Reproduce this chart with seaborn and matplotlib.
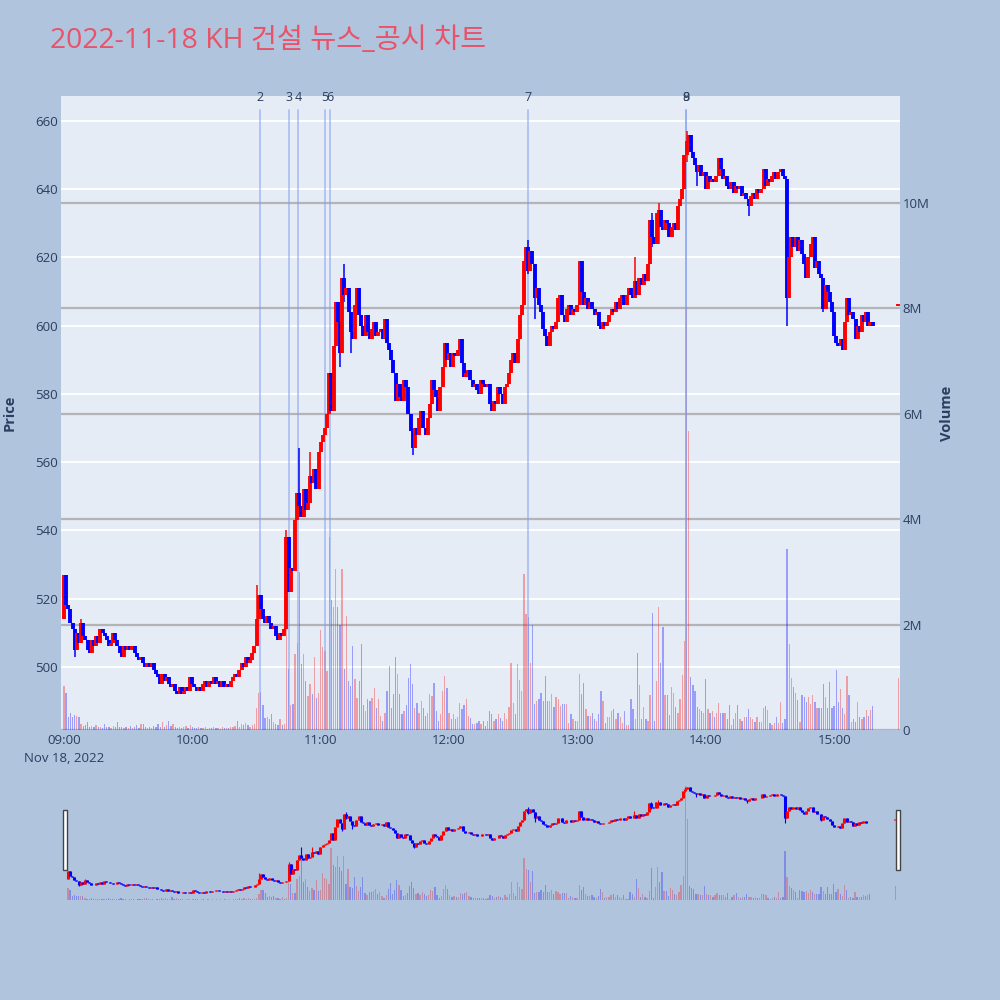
import matplotlib
matplotlib.use("Agg")
import matplotlib.pyplot as plt
import matplotlib.transforms as mtransforms
from matplotlib.patches import Rectangle
import numpy as np
import pandas as pd
import seaborn as sns

TITLE = "2022-11-18 KH 건설 뉴스_공시 차트"

# 1-minute closing prices, index = minutes after 09:00
closes = [
    527, 518, 517, 513, 511, 505, 510, 507, 513, 509,
    508, 505, 504, 508, 506, 509, 507, 511, 510, 509,
    508, 506, 507, 510, 508, 506, 504, 503, 506, 505,
    506, 505, 506, 504, 503, 502, 503, 501, 500, 501,
    500, 501, 499, 498, 497, 495, 498, 496, 497, 495,
    494, 495, 493, 492, 494, 492, 493, 494, 493, 497,
    495, 494, 493, 494, 493, 495, 496, 494, 496, 495,
    497, 495, 496, 494, 496, 494, 495, 494, 496, 497,
    498, 497, 499, 501, 500, 503, 501, 502, 504, 506,
    514, 521, 517, 514, 513, 515, 513, 511, 512, 509,
    508, 510, 509, 511, 538, 522, 529, 528, 543, 551,
    547, 544, 552, 546, 548, 556, 554, 558, 552, 563,
    566, 568, 570, 574, 586, 575, 594, 607, 601, 592,
    614, 609, 611, 604, 598, 596, 606, 611, 603, 600,
    597, 603, 598, 596, 599, 601, 597, 598, 599, 596,
    602, 595, 593, 590, 586, 578, 583, 579, 578, 584,
    582, 574, 569, 564, 570, 568, 573, 575, 570, 568,
    573, 577, 584, 581, 579, 575, 582, 588, 595, 590,
    592, 588, 592, 591, 593, 596, 589, 585, 586, 587,
    584, 582, 583, 581, 580, 584, 583, 582, 583, 577,
    575, 578, 577, 582, 580, 577, 582, 583, 586, 590,
    592, 589, 596, 603, 606, 619, 623, 616, 622, 618,
    608, 611, 606, 604, 599, 597, 594, 598, 600, 599,
    601, 608, 609, 603, 601, 605, 606, 603, 605, 604,
    606, 619, 610, 606, 608, 605, 607, 605, 603, 604,
    600, 599, 601, 600, 601, 603, 605, 604, 607, 605,
    608, 609, 606, 609, 611, 609, 608, 613, 609, 614,
    612, 615, 613, 618, 631, 626, 624, 633, 634, 629,
    628, 631, 630, 626, 629, 630, 628, 635, 637, 640,
    650, 654, 656, 651, 649, 647, 645, 647, 644, 645,
    640, 644, 642, 643, 642, 644, 649, 646, 643, 644,
    641, 640, 642, 639, 641, 640, 641, 638, 639, 637,
    635, 638, 639, 637, 640, 639, 640, 646, 641, 643,
    642, 644, 645, 643, 645, 646, 644, 643, 608, 620,
    626, 623, 626, 622, 625, 621, 618, 614, 620, 624,
    626, 617, 619, 615, 614, 605, 612, 610, 607, 604,
    597, 595, 594, 596, 593, 601, 608, 603, 604, 602,
    596, 600, 598, 603, 601, 604, 600, 601, 600,
]
first_open = 514

# volume per minute, millions of shares
volumes = [
    0.84, 0.70, 0.25, 0.33, 0.25, 0.28, 0.27, 0.25, 0.12, 0.08,
    0.10, 0.16, 0.06, 0.08, 0.05, 0.10, 0.06, 0.05, 0.04, 0.12,
    0.05, 0.06, 0.04, 0.08, 0.05, 0.16, 0.05, 0.06, 0.03, 0.05,
    0.04, 0.07, 0.03, 0.05, 0.10, 0.04, 0.12, 0.12, 0.05, 0.04,
    0.06, 0.03, 0.08, 0.05, 0.12, 0.05, 0.16, 0.06, 0.09, 0.18,
    0.08, 0.12, 0.05, 0.04, 0.06, 0.03, 0.05, 0.08, 0.03, 0.10,
    0.05, 0.04, 0.03, 0.05, 0.04, 0.03, 0.06, 0.02, 0.04, 0.03,
    0.05, 0.03, 0.04, 0.02, 0.05, 0.03, 0.04, 0.03, 0.06, 0.05,
    0.08, 0.17, 0.06, 0.12, 0.10, 0.13, 0.10, 0.06, 0.09, 0.12,
    0.42, 0.70, 0.72, 0.48, 0.22, 0.25, 0.20, 0.30, 0.15, 0.12,
    0.10, 0.20, 0.10, 0.12, 2.14, 1.15, 0.48, 0.50, 1.44, 1.66,
    3.00, 1.25, 1.44, 0.93, 0.65, 0.87, 0.68, 1.38, 0.61, 0.70,
    1.89, 1.57, 1.50, 1.12, 3.66, 2.47, 2.33, 3.06, 2.33, 2.00,
    3.06, 1.15, 2.17, 0.93, 0.84, 1.60, 0.96, 0.61, 0.93, 1.63,
    0.48, 0.36, 0.58, 0.55, 0.61, 0.80, 0.42, 0.58, 0.27, 0.17,
    0.33, 0.74, 1.22, 0.42, 0.68, 1.38, 1.06, 0.68, 0.30, 0.36,
    0.48, 0.99, 1.25, 0.87, 0.42, 0.52, 0.33, 0.55, 0.42, 0.27,
    0.33, 0.68, 0.65, 0.90, 0.36, 0.17, 0.30, 0.74, 1.03, 0.80,
    0.33, 0.20, 0.30, 0.20, 0.24, 0.52, 0.39, 0.48, 0.58, 0.27,
    0.23, 0.11, 0.11, 0.14, 0.17, 0.11, 0.17, 0.08, 0.17, 0.36,
    0.30, 0.17, 0.20, 0.30, 0.23, 0.17, 0.33, 0.20, 0.43, 1.28,
    0.52, 0.30, 1.25, 0.94, 0.74, 2.96, 2.20, 2.14, 1.28, 2.00,
    0.49, 0.55, 0.58, 0.71, 0.55, 1.03, 0.55, 0.55, 0.68, 0.43,
    0.62, 0.58, 0.45, 0.49, 0.49, 0.49, 0.14, 0.30, 0.20, 0.17,
    0.17, 1.06, 0.68, 0.90, 0.40, 0.27, 0.27, 0.33, 0.20, 0.17,
    0.30, 0.74, 0.55, 0.13, 0.24, 0.24, 0.36, 0.40, 0.20, 0.32,
    0.24, 0.13, 0.36, 0.09, 0.09, 0.59, 0.40, 0.20, 1.46, 0.85,
    0.20, 0.43, 0.20, 0.17, 0.66, 2.22, 0.17, 0.93, 2.33, 1.27,
    1.95, 0.66, 0.66, 0.28, 0.81, 0.70, 0.43, 0.32, 0.59, 1.04,
    1.69, 8.02, 5.68, 1.00, 0.85, 0.74, 0.43, 0.40, 0.36, 0.32,
    0.97, 0.40, 0.32, 0.36, 0.24, 0.32, 0.51, 0.32, 0.32, 0.32,
    0.20, 0.47, 0.09, 0.20, 0.32, 0.47, 0.20, 0.17, 0.24, 0.24,
    0.40, 0.24, 0.20, 0.16, 0.24, 0.16, 0.16, 0.42, 0.45, 0.38,
    0.13, 0.09, 0.13, 0.24, 0.13, 0.53, 0.13, 0.20, 3.44, 1.64,
    0.99, 0.81, 0.70, 0.56, 0.16, 0.67, 0.63, 0.53, 0.63, 0.49,
    0.67, 0.53, 0.42, 0.42, 0.42, 0.88, 0.63, 0.42, 0.92, 0.42,
    0.45, 1.14, 0.53, 0.78, 0.42, 0.31, 1.03, 0.67, 0.16, 0.20,
    0.16, 0.53, 0.24, 0.20, 0.24, 0.38, 0.27, 0.38, 0.45,
]

# closing auction print at 15:30
auction_minute = 390
auction_price = 606
auction_volume = 0.99

# wicks that stick out past the bodies: minute -> (low, high)
wicks = {
    5: (503, 511), 8: (507, 514), 59: (493, 497), 90: (506, 524),
    104: (511, 540), 110: (546, 564), 115: (548, 563), 129: (588, 601),
    131: (607, 618), 134: (592, 604), 163: (562, 569), 217: (615, 625),
    220: (602, 618), 267: (608, 620), 275: (623, 633), 278: (624, 636),
    291: (648, 657), 296: (641, 647), 320: (632, 637), 338: (600, 643),
    355: (604, 614),
}

news_minutes = [91.6, 105.2, 109.4, 122.0, 124.4, 216.9, 290.8, 290.8]
news_labels = ["2", "3", "4", "5", "6", "7", "8", "9"]

hour_ticks = [0, 60, 120, 180, 240, 300, 360]
hour_labels = ["09:00", "10:00", "11:00", "12:00", "13:00", "14:00", "15:00"]
price_ticks = [500, 520, 540, 560, 580, 600, 620, 640, 660]
volume_ticks = [0, 2, 4, 6, 8, 10]
volume_labels = ["0", "2M", "4M", "6M", "8M", "10M"]

# ---- build the candle table
minute = list(range(len(closes))) + [auction_minute]
close = closes + [auction_price]
open_ = [first_open] + closes[:-1] + [auction_price]
df = pd.DataFrame({"minute": minute, "open": open_, "close": close,
                   "vol": volumes + [auction_volume]})
df["high"] = df[["open", "close"]].max(axis=1)
df["low"] = df[["open", "close"]].min(axis=1)
for m, (lo, hi) in wicks.items():
    row = df.minute == m
    df.loc[row, "low"] = min(lo, df.loc[row, "low"].iloc[0])
    df.loc[row, "high"] = max(hi, df.loc[row, "high"].iloc[0])
df["dir"] = np.where(df.close >= df.open, "up", "down")

RED, BLUE = "#ff0000", "#0000ff"
PAL = {"up": RED, "down": BLUE}
PLOT_BG = "#E5ECF6"
PAPER_BG = "#B0C4DE"
INK = "#2a3f5f"

sns.set_theme(style="white")
plt.rcParams["font.family"] = ["Open Sans", "Noto Sans CJK KR", "DejaVu Sans"]

XLIM = (-1.4, 390.8)
PRICE_LIM = (481.5, 667.3)
vol_top = df.vol.max() * 1.5


def draw_candles(ax, body_lw, wick_lw):
    colors = df.dir.map(PAL)
    ax.vlines(df.minute, df.low, df.high, colors=colors, lw=wick_lw, zorder=3)
    lo = df[["open", "close"]].min(axis=1)
    hi = df[["open", "close"]].max(axis=1)
    flat = hi - lo < 0.6
    lo = lo.where(~flat, lo - 0.3)
    hi = hi.where(~flat, hi + 0.3)
    ax.vlines(df.minute, lo, hi, colors=colors, lw=body_lw, zorder=4)


def draw_volume(ax, alpha):
    sns.histplot(data=df, x="minute", weights="vol", hue="dir",
                 hue_order=["up", "down"], palette=PAL, discrete=True,
                 shrink=0.6, alpha=alpha, linewidth=0, legend=False,
                 multiple="layer", ax=ax, zorder=2)


fig = plt.figure(figsize=(10, 10), dpi=100, facecolor=PAPER_BG)

# ---- main panel
ax = fig.add_axes([0.061, 0.270, 0.839, 0.634])
axv = ax.twinx()
ax.set_zorder(axv.get_zorder() + 1)
ax.patch.set_visible(False)
axv.set_facecolor(PLOT_BG)
axv.patch.set_visible(True)

# white price grid underneath everything
for p in price_ticks:
    f = (p - PRICE_LIM[0]) / (PRICE_LIM[1] - PRICE_LIM[0])
    axv.plot([0, 1], [f, f], transform=axv.transAxes, color="white",
             lw=1.3, zorder=0.3)

draw_volume(axv, 0.33)
axv.set_ylim(0, vol_top)
axv.set_yticks(volume_ticks)
axv.set_yticklabels(volume_labels)
axv.grid(axis="y", color="#b4b4b8", lw=1.6, zorder=0.5)
axv.set_axisbelow(True)
axv.set_ylabel("")
axv.set_xlabel("")

draw_candles(ax, body_lw=2.8, wick_lw=1.1)
ax.set_xlim(*XLIM)
ax.set_ylim(*PRICE_LIM)
ax.set_yticks(price_ticks)
ax.set_xticks(hour_ticks)
ax.set_xticklabels(hour_labels)
axv.set_xlim(*XLIM)

# news markers
trans = mtransforms.blended_transform_factory(ax.transData, ax.transAxes)
for m, lab in zip(news_minutes, news_labels):
    ax.plot([m, m], [0, 0.978], transform=trans, color="#7f9cf0",
            alpha=0.55, lw=1.3, zorder=2.5)
    ax.text(m, 0.998, lab, transform=trans, ha="center", va="center",
            fontsize=9, color=INK)

for a in (ax, axv):
    for s in a.spines.values():
        s.set_visible(False)
ax.tick_params(axis="both", length=0, labelsize=9.5, labelcolor=INK)
ax.tick_params(axis="y", pad=2)
ax.tick_params(axis="x", pad=3)
axv.tick_params(axis="y", length=0, labelsize=9.5, labelcolor=INK, pad=2)

fig.text(0.064, 0.242, "Nov 18, 2022", ha="center", va="center",
         fontsize=9.5, color=INK)
fig.text(0.010, 0.587, "Price", rotation=90, ha="center", va="center",
         fontsize=10.5, fontweight="bold", color=INK)
fig.text(0.947, 0.587, "Volume", rotation=90, ha="center", va="center",
         fontsize=10.5, fontweight="bold", color=INK)
fig.text(0.050, 0.959, TITLE, ha="left", va="center", fontsize=20.4,
         color="#E8536A")

# ---- range slider
axs = fig.add_axes([0.065, 0.100, 0.832, 0.120])
axsv = axs.twinx()
axs.set_zorder(axsv.get_zorder() + 1)
axs.patch.set_visible(False)
axsv.set_facecolor(PLOT_BG)
draw_volume(axsv, 0.28)
axsv.set_ylim(0, df.vol.max() * 1.05)
draw_candles(axs, body_lw=2.2, wick_lw=0.8)
axs.set_xlim(*XLIM)
axsv.set_xlim(*XLIM)
axs.set_ylim(*PRICE_LIM)
for a in (axs, axsv):
    a.set_xticks([])
    a.set_yticks([])
    a.set_xlabel("")
    a.set_ylabel("")
    for s in a.spines.values():
        s.set_visible(False)

for hx in (0.0625, 0.8955):
    fig.add_artist(Rectangle((hx, 0.130), 0.004, 0.060, transform=fig.transFigure,
                             facecolor="white", edgecolor="#444444", lw=1.0))

fig.savefig("out.png", dpi=100, facecolor=PAPER_BG)
